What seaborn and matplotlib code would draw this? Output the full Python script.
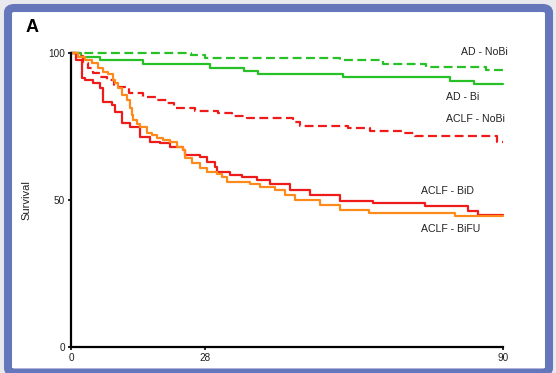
import matplotlib
matplotlib.use("Agg")
import matplotlib.pyplot as plt
import seaborn as sns
import pandas as pd
from matplotlib.patches import FancyBboxPatch

# ---------------------------------------------------
# DATA (Kaplan-Meier steps)
# ---------------------------------------------------

ad_nobi_t = [0, 25, 28, 56, 65, 74, 86.5, 90]
ad_nobi_s = [100, 99.4, 98.4, 97.6, 96.5, 95.4, 94.4, 94.4]

ad_bi_t = [0, 2, 6, 15, 29, 36, 39, 56.7, 79, 84, 90]
ad_bi_s = [100, 98.8, 97.6, 96.3, 95.1, 94.0, 92.9, 91.9, 90.7, 89.5, 89.5]

aclf_nobi_t = [0, 1.5, 2.5, 3.5, 4.6, 6, 7.5, 9, 12, 15, 18, 20, 21.5, 25.8,
               30.6, 33.5, 36.7, 46.3, 47.7, 57.7, 62.3, 69.2, 71.7, 88.7, 90]
aclf_nobi_s = [100, 99, 96.7, 95.1, 93.4, 92.0, 90.9, 88.5, 86.5, 85.1, 84.0,
               83.1, 81.4, 80.4, 79.7, 78.7, 77.9, 76.6, 75.2, 74.6, 73.5, 72.8,
               71.8, 69.9, 69.9]

aclf_bid_t = [0, 1, 2.3, 2.9, 4.6, 6, 6.7, 8.5, 9.2, 10.6, 12.3, 14.4, 16.5,
              18.5, 20.6, 23.3, 23.75, 26.9, 28.3, 30, 30.4, 33.1, 35.6, 38.75,
              41.5, 45.6, 49.8, 56, 62.9, 73.75, 82.7, 84.8, 90]
aclf_bid_s = [100, 97.7, 91.6, 91.0, 89.9, 88.2, 83.4, 82.4, 80.0, 76.3, 74.8,
              71.5, 69.8, 69.4, 68.1, 67.1, 65.3, 64.7, 63.0, 61.3, 59.6, 58.6,
              57.9, 56.9, 55.5, 53.4, 51.7, 49.8, 48.9, 48.1, 46.4, 44.9, 44.9]

aclf_bifu_t = [0, 1.5, 2.9, 4.4, 5.6, 6.7, 7.7, 8.75, 9.2, 9.8, 10.6, 11.7,
               12.3, 12.7, 12.9, 13.75, 14.4, 15.8, 16.9, 17.9, 19.2, 20.6,
               22.1, 23.3, 23.75, 25.2, 26.9, 28.3, 30.4, 31.5, 32.5, 37.3,
               39.4, 42.5, 44.6, 46.7, 51.9, 56, 62, 80, 90]
aclf_bifu_s = [100, 98.9, 97.7, 96.7, 95.0, 93.7, 93.0, 91.0, 89.9, 88.2, 85.8,
               84.1, 81.4, 79.0, 77.3, 75.9, 74.9, 72.9, 72.2, 71.2, 70.5, 69.8,
               68.1, 67.1, 64.3, 62.6, 60.9, 59.6, 58.9, 57.9, 56.2, 55.5, 54.5,
               53.4, 51.7, 50.0, 48.3, 46.6, 45.7, 44.7, 44.7]

x_ticks = [0, 28, 90]
y_ticks = [0, 50, 100]

GREEN = "#27c127"
RED = "#ee1b1b"
ORANGE = "#ff8a1c"

series = [
    ("AD - NoBi", ad_nobi_t, ad_nobi_s, GREEN, True),
    ("AD - Bi", ad_bi_t, ad_bi_s, GREEN, False),
    ("ACLF - NoBi", aclf_nobi_t, aclf_nobi_s, RED, True),
    ("ACLF - BiD", aclf_bid_t, aclf_bid_s, RED, False),
    ("ACLF - BiFU", aclf_bifu_t, aclf_bifu_s, ORANGE, False),
]

# label anchors (left edge, vertical centre) in data units
labels = {
    "AD - NoBi": (81.3, 100.6),
    "AD - Bi": (78.2, 85.2),
    "ACLF - NoBi": (78.2, 77.6),
    "ACLF - BiD": (73.0, 53.2),
    "ACLF - BiFU": (73.0, 40.1),
}

# ---------------------------------------------------
# FIGURE
# ---------------------------------------------------

sns.set_style("white")
plt.rcParams["font.family"] = ["Liberation Sans", "DejaVu Sans"]

fig = plt.figure(figsize=(5.56, 3.73), dpi=100, facecolor="#e9e9ee")

# blue rounded frame (behind the axes)
W, H = 556, 373
frame = FancyBboxPatch((8 / W, 0.5 / H), 541 / W, (H - 8.5) / H,
                       boxstyle="round,pad=0,rounding_size=0.012",
                       transform=fig.transFigure, facecolor="white",
                       edgecolor="#6576ba", linewidth=5.8, zorder=-5)
fig.patches.append(frame)

ax = fig.add_axes([71 / W, 26 / H, 432 / W, (347 - 53.3) / H])
ax.set_facecolor("none")
ax.set_zorder(2)

for name, t, s, color, dashed in series:
    df = pd.DataFrame({"t": t, "s": s})
    ls = (0, (4, 2)) if dashed else "-"
    sns.lineplot(data=df, x="t", y="s", ax=ax, color=color, linewidth=1.6,
                 drawstyle="steps-post", linestyle=ls, clip_on=False,
                 estimator=None, sort=False)
    lx, ly = labels[name]
    ax.text(lx, ly, name, fontsize=7.6, color="#222222", ha="left", va="center")

ax.set_xlim(0, 90)
ax.set_ylim(0, 100)
ax.set_xticks(x_ticks)
ax.set_yticks(y_ticks)
ax.tick_params(axis="both", labelsize=7.2, length=2.5, width=1.2, colors="black",
               direction="out", pad=2)
ax.tick_params(axis="both", bottom=True, left=True)
for lab in ax.get_xticklabels() + ax.get_yticklabels():
    lab.set_color("#222222")

for side in ["top", "right"]:
    ax.spines[side].set_visible(False)
for side in ["left", "bottom"]:
    ax.spines[side].set_linewidth(1.6)
    ax.spines[side].set_color("black")

ax.set_xlabel("")
ax.set_ylabel("Survival", fontsize=8, color="#222222")
ax.yaxis.set_label_coords(-0.0926, 0.5)

fig.text(32 / W, 1 - 27 / H, "A", fontsize=13, fontweight="bold",
         color="black", ha="center", va="center")

fig.savefig("out.png", dpi=100, facecolor=fig.get_facecolor())
plt.close()
